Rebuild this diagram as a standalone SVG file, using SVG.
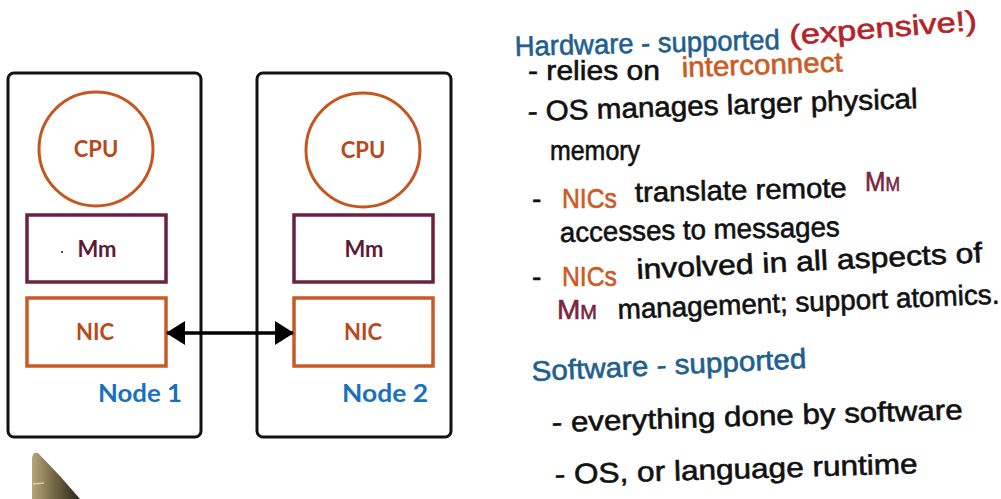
<svg xmlns="http://www.w3.org/2000/svg" width="1001" height="499" viewBox="0 0 1001 499">
<style>
.box{fill:none;stroke:#111;stroke-width:3}
.cpu{fill:none;stroke:#c4561f;stroke-width:3}
.mm{fill:none;stroke:#6a2240;stroke-width:3.5}
.nic{fill:none;stroke:#c85a26;stroke-width:3.5}
.lbl{font-family:Lato,"Noto Sans",sans-serif;font-weight:bold;font-size:22px;text-anchor:middle}
.o{fill:#b8491c}
.m{fill:#5c1a33}
.nl{font-family:Lato,"Noto Sans",sans-serif;font-weight:bold;font-size:25px;fill:#1671be;text-anchor:end}
.hw{font-family:"Liberation Sans",sans-serif;font-size:28px;stroke-width:0.6;paint-order:stroke}
.k{fill:#111;stroke:#111}
.b{fill:#1f5f8f;stroke:#1f5f8f}
.r{fill:#b3232a;stroke:#b3232a}
.or{fill:#cc5a24;stroke:#cc5a24}
.mr{fill:#7a2540;stroke:#7a2540;font-variant:small-caps}
</style>
<defs>
<marker id="ah" markerWidth="19" markerHeight="24" refX="18" refY="12" orient="auto-start-reverse" markerUnits="userSpaceOnUse" viewBox="0 0 19 24">
<path d="M0,0 L19,12 L0,24 Z" fill="#000"/>
</marker>
<linearGradient id="pen" x1="0" y1="0" x2="1" y2="0">
<stop offset="0" stop-color="#b8a57a"/>
<stop offset="0.5" stop-color="#6e6240"/>
<stop offset="1" stop-color="#2a2418"/>
</linearGradient>
</defs>

<g id="node1">
<rect class="box" x="8" y="73" width="193" height="364" rx="6"/>
<circle class="cpu" cx="96" cy="149" r="57"/>
<text class="lbl o" x="96" y="157">CPU</text>
<rect class="mm" x="27" y="215" width="139" height="67"/>
<text class="lbl m" x="97" y="257">Mm</text>
<circle cx="62" cy="252" r="1" fill="#222"/>
<rect class="nic" x="27" y="298" width="139" height="68"/>
<text class="lbl o" x="95" y="340">NIC</text>
<text class="nl" x="182" y="402" textLength="84" lengthAdjust="spacingAndGlyphs">Node 1</text>
</g>

<g id="node2">
<rect class="box" x="257" y="73" width="194" height="364" rx="6"/>
<circle class="cpu" cx="363" cy="150" r="57"/>
<text class="lbl o" x="363" y="158">CPU</text>
<rect class="mm" x="294" y="215" width="139" height="67"/>
<text class="lbl m" x="364" y="257">Mm</text>
<rect class="nic" x="294" y="298" width="139" height="68"/>
<text class="lbl o" x="363" y="340">NIC</text>
<text class="nl" x="428" y="402" textLength="86" lengthAdjust="spacingAndGlyphs">Node 2</text>
</g>

<g id="connectors">
<line x1="167" y1="333" x2="293" y2="333" stroke="#000" stroke-width="3.5" marker-start="url(#ah)" marker-end="url(#ah)"/>
</g>

<g id="pen-tip">
<path d="M32,499 L32,460 Q32,451 38,453 Q60,475 80,499 Z" fill="url(#pen)"/>
<line x1="33" y1="484" x2="44" y2="483" stroke="#d8cca0" stroke-width="1.5"/>
</g>

<g id="notes">
<text class="hw b" x="515" y="56" textLength="265" lengthAdjust="spacingAndGlyphs" transform="rotate(-1.5 515 56)">Hardware - supported</text>
<text class="hw r" x="790" y="45" textLength="188" lengthAdjust="spacingAndGlyphs" transform="rotate(-4.6 790 45)">(expensive!)</text>

<text class="hw k" x="528" y="80" textLength="132" lengthAdjust="spacingAndGlyphs">- relies on</text>
<text class="hw or" x="682" y="77" textLength="161" lengthAdjust="spacingAndGlyphs" transform="rotate(-2 682 77)">interconnect</text>

<text class="hw k" x="528" y="121" textLength="390" lengthAdjust="spacingAndGlyphs" transform="rotate(-1.9 528 121)">- OS manages larger physical</text>
<text class="hw k" x="550" y="160" textLength="90" lengthAdjust="spacingAndGlyphs">memory</text>

<text class="hw k" x="532" y="208">-</text>
<text class="hw or" x="562" y="208" textLength="55" lengthAdjust="spacingAndGlyphs">NICs</text>
<text class="hw k" x="635" y="202" textLength="212" lengthAdjust="spacingAndGlyphs" transform="rotate(-1.3 635 202)">translate remote</text>
<text class="hw mr" x="865" y="191" textLength="35" lengthAdjust="spacingAndGlyphs" font-size="20">Mm</text>
<text class="hw k" x="560" y="242" textLength="280" lengthAdjust="spacingAndGlyphs" transform="rotate(-1.2 560 242)">accesses to messages</text>

<text class="hw k" x="532" y="286">-</text>
<text class="hw or" x="562" y="286" textLength="55" lengthAdjust="spacingAndGlyphs">NICs</text>
<text class="hw k" x="637" y="279" textLength="346" lengthAdjust="spacingAndGlyphs" transform="rotate(-2.8 637 279)">involved in all aspects of</text>
<text class="hw mr" x="557" y="319" textLength="40" lengthAdjust="spacingAndGlyphs" font-size="22">Mm</text>
<text class="hw k" x="618" y="319" textLength="382" lengthAdjust="spacingAndGlyphs" transform="rotate(-2.3 618 319)">management; support atomics.</text>

<text class="hw b" x="532" y="381" textLength="275" lengthAdjust="spacingAndGlyphs" transform="rotate(-2.7 532 381)">Software - supported</text>
<text class="hw k" x="552" y="432" textLength="411" lengthAdjust="spacingAndGlyphs" transform="rotate(-1.8 552 432)">- everything done by software</text>
<text class="hw k" x="555" y="484" textLength="363" lengthAdjust="spacingAndGlyphs" transform="rotate(-1.7 555 484)">- OS, or language runtime</text>
</g>
</svg>
